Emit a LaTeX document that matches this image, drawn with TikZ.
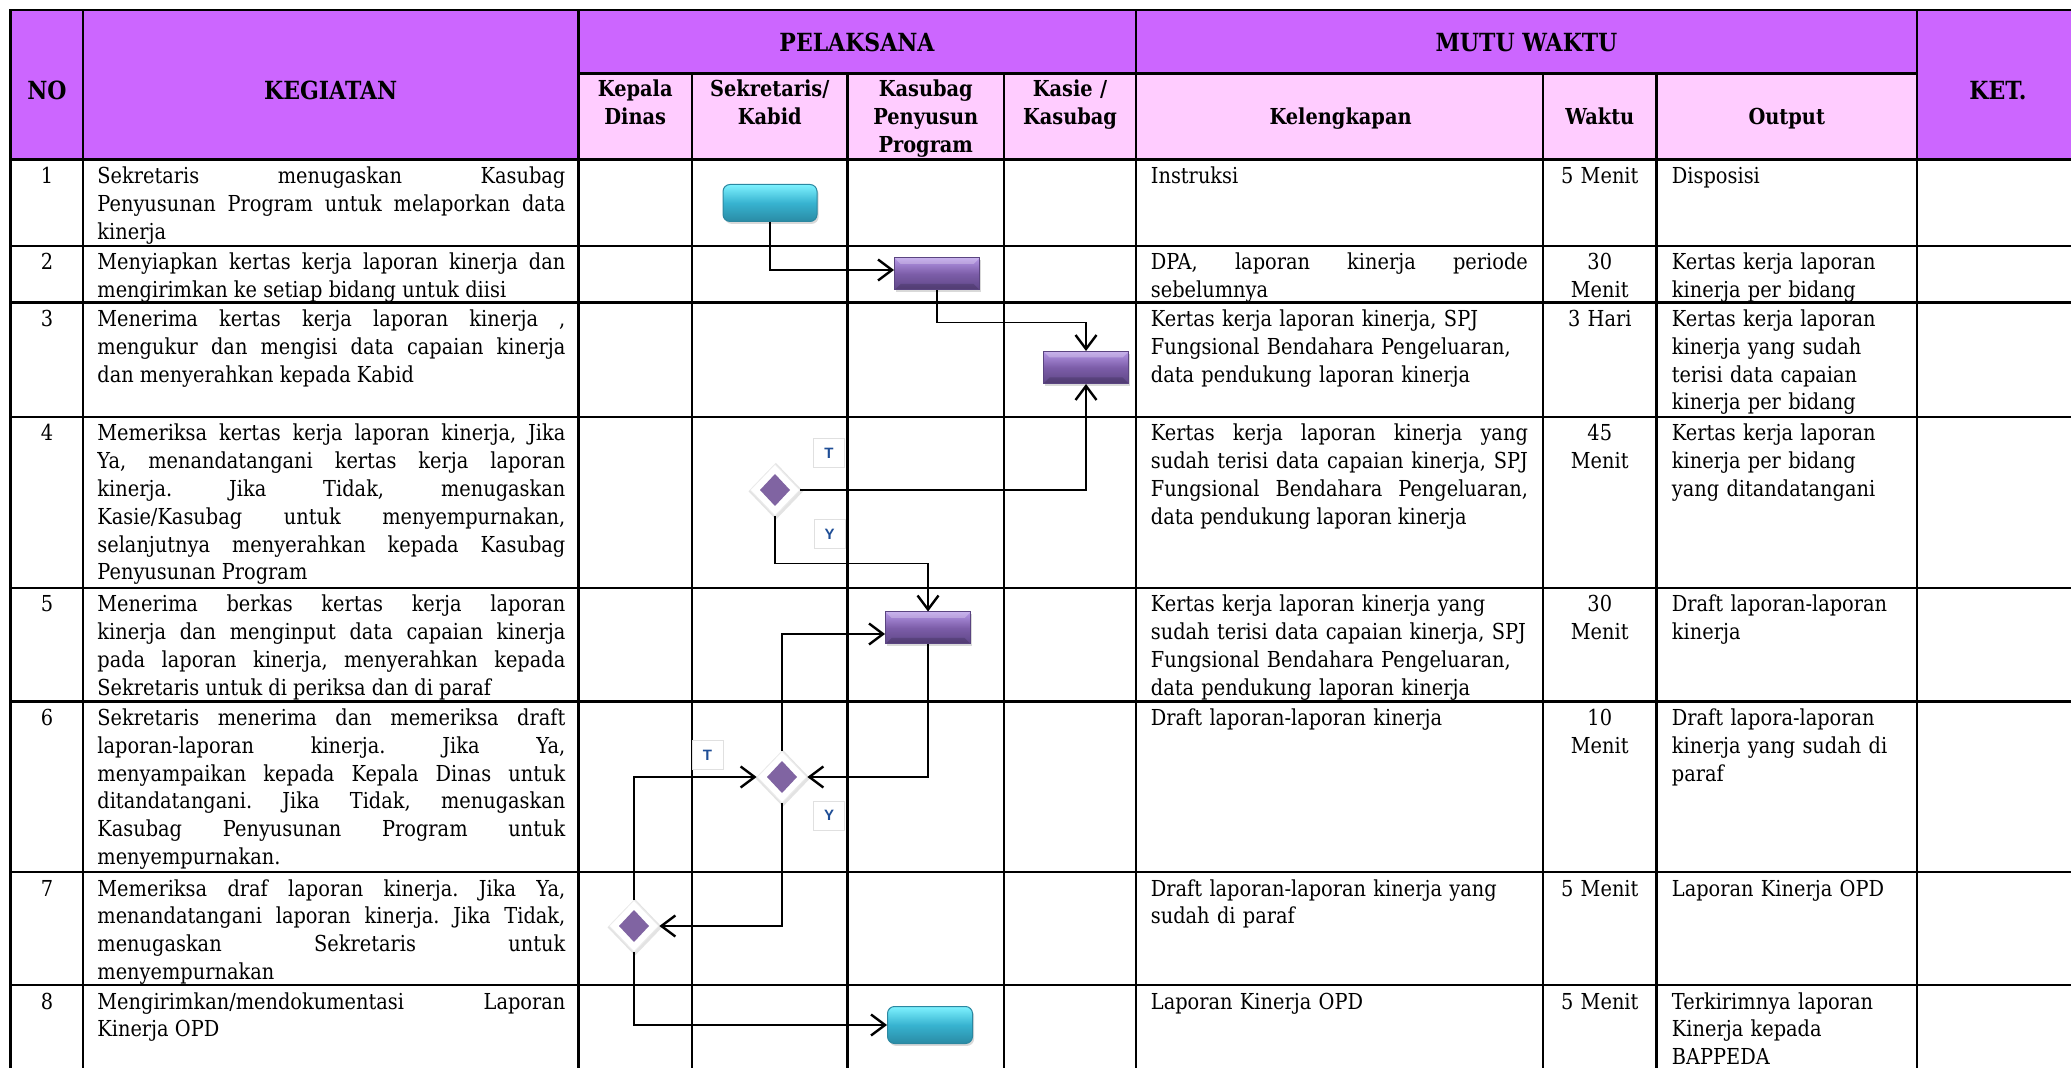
\documentclass[tikz,border=0pt]{standalone}
\usepackage{fontspec}
\setmainfont{DejaVu Serif}[FakeStretch=0.88]
\newfontfamily\tyfont{Liberation Sans}
\usetikzlibrary{shapes.geometric,arrows.meta,shadows}

\definecolor{headvio}{HTML}{CC66FF}
\definecolor{subpink}{HTML}{FFCCFF}
\definecolor{boxtop}{HTML}{B597E6}
\definecolor{boxmid}{HTML}{7C5DA8}
\definecolor{boxbot}{HTML}{5E4686}
\definecolor{boxedge}{HTML}{5A4480}
\definecolor{cyantop}{HTML}{7EF2FF}
\definecolor{cyanmid}{HTML}{37B3D0}
\definecolor{cyanbot}{HTML}{2A8BA5}
\definecolor{cyanedge}{HTML}{2B87A0}
\definecolor{dmd}{HTML}{8064A2}
\definecolor{lblblue}{HTML}{1F4E96}

\newcommand\cellfont{\fontsize{11}{13.9}\selectfont}
\newcommand\headfont{\fontsize{12.5}{14}\selectfont\bfseries}
\newcommand\subfont{\fontsize{11}{14}\selectfont\bfseries}
\tolerance=9999 \hbadness=10000 \hyphenpenalty=10000 \exhyphenpenalty=10000
\frenchspacing

\begin{document}
\begin{tikzpicture}[x=0.5pt, y=-0.5pt,
    grid/.style={line width=1.2pt, line cap=rect},
    keg/.style={anchor=base west, inner sep=0pt, text width=234pt, align=justify, font=\cellfont},
    kel/.style={anchor=base west, inner sep=0pt, text width=188.5pt, align=justify, font=\cellfont},
    kelr/.style={kel, align=left},
    wkt/.style={anchor=base, inner sep=0pt, text width=52pt, align=center, font=\cellfont},
    outp/.style={anchor=base west, inner sep=0pt, text width=120pt, align=left, font=\cellfont},
    num/.style={anchor=base, inner sep=0pt, font=\cellfont},
    hd/.style={anchor=base, inner sep=0pt, font=\headfont},
    sub/.style={anchor=base, inner sep=0pt, text width=70pt, align=center, font=\subfont},
    proc/.style={rectangle, minimum width=42.5pt, minimum height=16pt, draw=boxedge, line width=0.5pt,
      top color=boxtop, bottom color=boxbot, middle color=boxmid,
      drop shadow={opacity=0.3, shadow xshift=0.8pt, shadow yshift=-1.2pt},
      path picture={\fill[white, opacity=0.25] (path picture bounding box.north west) -- (path picture bounding box.north east)
        -- ([xshift=-3pt, yshift=-3pt]path picture bounding box.north east) -- ([xshift=3pt, yshift=-3pt]path picture bounding box.north west) -- cycle;
        \fill[black, opacity=0.15] (path picture bounding box.south west) -- (path picture bounding box.south east)
        -- ([xshift=-3pt, yshift=3pt]path picture bounding box.south east) -- ([xshift=3pt, yshift=3pt]path picture bounding box.south west) -- cycle;}},
    term/.style={rectangle, rounded corners=3.5pt, minimum width=42.5pt, minimum height=18.5pt, draw=cyanedge, line width=0.5pt,
      top color=cyantop, bottom color=cyanbot, middle color=cyanmid,
      drop shadow={opacity=0.3, shadow xshift=0.8pt, shadow yshift=-1.2pt}},
    dec/.style={diamond, inner sep=0pt, minimum width=25pt, minimum height=26pt, fill=white, draw=black!8, line width=0.4pt,
      drop shadow={opacity=0.22, shadow scale=1.1, shadow xshift=0.4pt, shadow yshift=-0.6pt},
      path picture={\fill[dmd, shift={(path picture bounding box.center)}] (0pt,8pt) -- (7.5pt,0pt) -- (0pt,-8pt) -- (-7.5pt,0pt) -- cycle;}},
    lbl/.style={draw=black!12, fill=white, inner sep=0pt, minimum width=15.5pt, minimum height=14.5pt,
      font=\tyfont\bfseries\fontsize{7.5}{8}\selectfont, text=lblblue},
    con/.style={line width=0.75pt, -{Straight Barb[length=7pt, width=10.5pt, line width=1.2pt]}}
  ]
  \useasboundingbox (0,0) rectangle (2071,1068);
  \clip (0,0) rectangle (2071,1068);

  % table head
  \fill[headvio] (10.5,10) rectangle (2100,159.5);
  \fill[subpink] (578.5,73.5) rectangle (1917,159.5);
  \foreach \y in {10,159.5,246,302.5,417,588,701.5,872,985}
    \draw[grid] (10.5,\y) -- (2100,\y);
  \draw[grid] (578.5,73.5) -- (1917,73.5);
  \foreach \x in {10.5,83,578.5,1136,1917}
    \draw[grid] (\x,10) -- (\x,1100);
  \foreach \x in {692,847.5,1004,1543,1656.5}
    \draw[grid] (\x,73.5) -- (\x,1100);

  \node[name=hno, hd] at (47,100) {NO};
  \node[name=hkeg, hd] at (330.75,100) {KEGIATAN};
  \node[name=hpel, hd] at (857,52) {PELAKSANA};
  \node[name=hmutu, hd] at (1526.5,52) {MUTU WAKTU};
  \node[name=hket, hd] at (1998,100) {KET.};
  \node[name=skepala, sub] at (635.25,97) {Kepala\\Dinas};
  \node[name=ssekr, sub] at (769.75,97) {Sekretaris/\\Kabid};
  \node[name=skasubag, sub] at (925.75,97) {Kasubag\\Penyusun\\Program};
  \node[name=skasie, sub] at (1070,97) {Kasie /\\Kasubag};
  \node[name=skel, sub] at (1339.5,124.5) {Kelengkapan};
  \node[name=swaktu, sub] at (1599.75,124.5) {Waktu};
  \node[name=soutput, sub] at (1786.75,124.5) {Output};

  % nomor
  \foreach \n/\y in {1/159.5,2/246,3/302.5,4/417,5/588,6/701.5,7/872,8/985}
    \node[name=no\n, num] at (47,\y+24) {\n};

  % kegiatan
  \node[name=k1, keg] at (97,183.5) {Sekretaris menugaskan Kasubag\linebreak Penyusunan Program untuk melaporkan data\linebreak kinerja};
  \node[name=k2, keg] at (97,270) {Menyiapkan kertas kerja laporan kinerja dan\linebreak mengirimkan ke setiap bidang untuk diisi};
  \node[name=k3, keg] at (97,326.5) {Menerima kertas kerja laporan kinerja ,\linebreak mengukur dan mengisi data capaian kinerja\linebreak dan menyerahkan kepada Kabid};
  \node[name=k4, keg] at (97,441) {Memeriksa kertas kerja laporan kinerja, Jika\linebreak Ya, menandatangani kertas kerja laporan\linebreak kinerja. Jika Tidak, menugaskan\linebreak Kasie/Kasubag untuk menyempurnakan,\linebreak selanjutnya menyerahkan kepada Kasubag\linebreak Penyusunan Program};
  \node[name=k5, keg] at (97,612) {Menerima berkas kertas kerja laporan\linebreak kinerja dan menginput data capaian kinerja\linebreak pada laporan kinerja, menyerahkan kepada\linebreak Sekretaris untuk di periksa dan di paraf};
  \node[name=k6, keg] at (97,725.5) {Sekretaris menerima dan memeriksa draft\linebreak laporan-laporan kinerja. Jika Ya,\linebreak menyampaikan kepada Kepala Dinas untuk\linebreak ditandatangani. Jika Tidak, menugaskan\linebreak Kasubag Penyusunan Program untuk\linebreak menyempurnakan.};
  \node[name=k7, keg] at (97,896) {Memeriksa draf laporan kinerja. Jika Ya,\linebreak menandatangani laporan kinerja. Jika Tidak,\linebreak menugaskan Sekretaris untuk\linebreak menyempurnakan};
  \node[name=k8, keg] at (97,1009) {Mengirimkan/mendokumentasi Laporan\linebreak Kinerja OPD};

  % kelengkapan
  \node[name=l1, kelr] at (1150.5,183.5) {Instruksi};
  \node[name=l2, kel] at (1150.5,270) {DPA, laporan kinerja periode\linebreak sebelumnya};
  \node[name=l3, kelr] at (1150.5,326.5) {Kertas kerja laporan kinerja, SPJ\\Fungsional Bendahara Pengeluaran,\\data pendukung laporan kinerja};
  \node[name=l4, kel] at (1150.5,441) {Kertas kerja laporan kinerja yang\linebreak sudah terisi data capaian kinerja, SPJ\linebreak Fungsional Bendahara Pengeluaran,\linebreak data pendukung laporan kinerja};
  \node[name=l5, kelr] at (1150.5,612) {Kertas kerja laporan kinerja yang\\sudah terisi data capaian kinerja, SPJ\\Fungsional Bendahara Pengeluaran,\\data pendukung laporan kinerja};
  \node[name=l6, kelr] at (1150.5,725.5) {Draft laporan-laporan kinerja};
  \node[name=l7, kelr] at (1150.5,896) {Draft laporan-laporan kinerja yang\\sudah di paraf};
  \node[name=l8, kelr] at (1150.5,1009) {Laporan Kinerja OPD};

  % waktu
  \node[name=w1, wkt] at (1599.75,183.5) {5 Menit};
  \node[name=w2, wkt] at (1599.75,270) {30\\Menit};
  \node[name=w3, wkt] at (1599.75,326.5) {3 Hari};
  \node[name=w4, wkt] at (1599.75,441) {45\\Menit};
  \node[name=w5, wkt] at (1599.75,612) {30\\Menit};
  \node[name=w6, wkt] at (1599.75,725.5) {10\\Menit};
  \node[name=w7, wkt] at (1599.75,896) {5 Menit};
  \node[name=w8, wkt] at (1599.75,1009) {5 Menit};

  % output
  \node[name=o1, outp] at (1671.5,183.5) {Disposisi};
  \node[name=o2, outp] at (1671.5,270) {Kertas kerja laporan\\kinerja per bidang};
  \node[name=o3, outp] at (1671.5,326.5) {Kertas kerja laporan\\kinerja yang sudah\\terisi data capaian\\kinerja per bidang};
  \node[name=o4, outp] at (1671.5,441) {Kertas kerja laporan\\kinerja per bidang\\yang ditandatangani};
  \node[name=o5, outp] at (1671.5,612) {Draft laporan-laporan\\kinerja};
  \node[name=o6, outp] at (1671.5,725.5) {Draft lapora-laporan\\kinerja yang sudah di\\paraf};
  \node[name=o7, outp] at (1671.5,896) {Laporan Kinerja OPD};
  \node[name=o8, outp] at (1671.5,1009) {Terkirimnya laporan\\Kinerja kepada\\BAPPEDA};

  % alur
  \node[name=start, term, minimum width=47pt] at (770,203) {};
  \node[name=p2, proc] at (937,274) {};
  \node[name=p3, proc] at (1086,367.5) {};
  \node[name=d4, dec] at (775,490) {};
  \node[name=p5, proc] at (928,628) {};
  \node[name=d6, dec] at (782,777) {};
  \node[name=d7, dec] at (634,926) {};
  \node[name=finish, term] at (930,1025) {};

  \node[name=t4, lbl] at (829,453) {T};
  \node[name=y4, lbl] at (829.5,534) {Y};
  \node[name=t6, lbl] at (707.5,755) {T};
  \node[name=y6, lbl] at (829,815.5) {Y};

  \draw[con] (start.south) |- ([yshift=2pt]p2.west);
  \draw[con] (p2.south) -- ++(0,32) -| (p3.north);
  \draw[con] (d4.east) -| (p3.south);
  \draw[con] (d4.south) -- ++(0,47) -| (p5.north);
  \draw[con] (d6.north) |- ([yshift=-3pt]p5.west);
  \draw[con] (p5.south) |- (d6.east);
  \draw[con] (d6.south) |- (d7.east);
  \draw[con] (d7.north) |- (d6.west);
  \draw[con] (d7.south) |- (finish.west);
\end{tikzpicture}
\end{document}
